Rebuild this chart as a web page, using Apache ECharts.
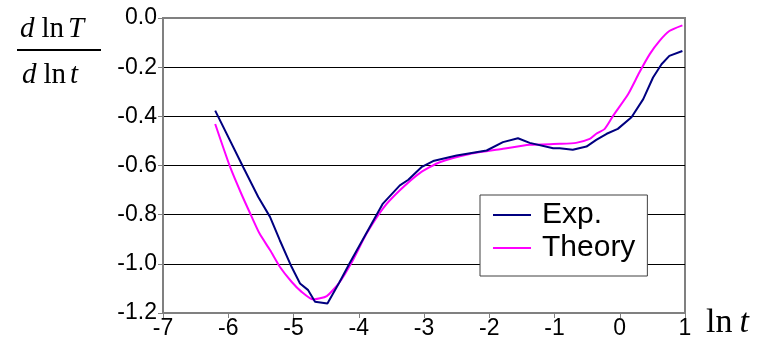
<!DOCTYPE html>
<html>
<head>
<meta charset="utf-8">
<script src="https://cdn.jsdelivr.net/npm/echarts@6/dist/echarts.min.js"></script>
<style>
  html, body { margin: 0; padding: 0; background: #fff; }
  #main { width: 764px; height: 346px; }
</style>
</head>
<body>
<div id="main"></div>
<script>
// measured curve points (ln t, d lnT / d ln t)
var expX = [-6.2, -5.77, -5.54, -5.36, -5.21, -5.03, -4.9, -4.775, -4.67, -4.48, -4.3, -4.14, -3.63, -3.37, -3.24, -3.04, -2.86, -2.5, -2.04, -1.79, -1.56, -1.38, -1.02, -0.92, -0.72, -0.51, -0.36, -0.2, -0.03, 0.18, 0.36, 0.51, 0.64, 0.76, 0.96];
var expY = [-0.377, -0.607, -0.728, -0.809, -0.904, -1.012, -1.08, -1.107, -1.154, -1.161, -1.077, -0.998, -0.755, -0.681, -0.658, -0.607, -0.582, -0.559, -0.539, -0.505, -0.489, -0.508, -0.53, -0.53, -0.536, -0.523, -0.496, -0.471, -0.451, -0.404, -0.33, -0.242, -0.188, -0.154, -0.134];
var theoryX = [-6.2, -5.97, -5.8, -5.64, -5.52, -5.36, -5.21, -5.03, -4.88, -4.7, -4.49, -4.3, -4.09, -3.88, -3.63, -3.37, -3.06, -2.76, -2.3, -1.79, -1.38, -0.92, -0.67, -0.46, -0.36, -0.23, -0.1, 0.13, 0.3, 0.46, 0.61, 0.76, 0.96];
var theoryY = [-0.431, -0.607, -0.715, -0.809, -0.877, -0.944, -1.012, -1.073, -1.113, -1.145, -1.131, -1.077, -0.985, -0.877, -0.775, -0.701, -0.63, -0.587, -0.553, -0.532, -0.516, -0.512, -0.508, -0.492, -0.471, -0.451, -0.397, -0.309, -0.222, -0.147, -0.093, -0.053, -0.03];
var seriesNames = ["Exp.", "Theory"];

function zip(xs, ys) {
  return xs.map(function (x, i) { return [x, ys[i]]; });
}

var myChart = echarts.init(document.getElementById("main"));
var serif = "'Liberation Serif', 'Times New Roman', serif";
var sans = "'Liberation Sans', Arial, sans-serif";

// rich text styles for the math labels
function mathRich(size, gapLn, gapVar) {
  return {
    i: { fontFamily: serif, fontStyle: "italic", fontSize: size, fill: "#000" },
    r: { fontFamily: serif, fontSize: size, fill: "#000", padding: [0, 0, 0, gapLn] },
    t: { fontFamily: serif, fontStyle: "italic", fontSize: size, fill: "#000", padding: [0, 0, 0, gapVar] }
  };
}

var option = {
  animation: false,
  backgroundColor: "#fff",
  grid: {
    left: 163,
    right: 79,
    top: 18,
    bottom: 33,
    show: true,
    borderColor: "#808080",
    borderWidth: 2,
    backgroundColor: "transparent"
  },
  xAxis: {
    type: "value",
    min: -7,
    max: 1,
    interval: 1,
    axisLine: { onZero: false, lineStyle: { color: "#808080", width: 2 } },
    axisTick: { show: true, length: 5, lineStyle: { color: "#808080", width: 1 } },
    axisLabel: { color: "#000", fontFamily: sans, fontSize: 23, margin: 4 },
    splitLine: { show: false }
  },
  yAxis: {
    type: "value",
    min: -1.2,
    max: 0,
    interval: 0.2,
    axisLine: { onZero: false, lineStyle: { color: "#808080", width: 2 } },
    axisTick: { show: true, length: 5, lineStyle: { color: "#808080", width: 1 } },
    axisLabel: {
      color: "#000",
      fontFamily: sans,
      fontSize: 23,
      margin: 6,
      formatter: function (v) { return v.toFixed(1); }
    },
    splitLine: {
      show: true,
      showMinLine: false,
      showMaxLine: false,
      lineStyle: { color: "#000", width: 1 }
    }
  },
  legend: {
    orient: "vertical",
    left: 480,
    top: 195,
    backgroundColor: "#fff",
    borderColor: "#404040",
    borderWidth: 1,
    padding: [5, 12, 13, 13],
    itemGap: 3,
    itemWidth: 38,
    itemHeight: 2,
    icon: "rect",
    textStyle: { color: "#000", fontFamily: sans, fontSize: 30, padding: [0, 0, 0, 6] },
    data: seriesNames
  },
  graphic: [
    {
      type: "text",
      left: 20,
      top: 15,
      style: { text: "{i|d}{r|ln}{t|T}", rich: mathRich(29, 7, 4) }
    },
    {
      type: "line",
      shape: { x1: 17, y1: 50, x2: 101, y2: 50 },
      style: { stroke: "#000", lineWidth: 2 }
    },
    {
      type: "text",
      left: 22,
      top: 61,
      style: { text: "{i|d}{r|ln}{t|t}", rich: mathRich(29, 7, 4) }
    },
    {
      type: "text",
      left: 706,
      top: 306,
      style: { text: "{r|ln}{t|t}", rich: mathRich(34, 0, 7) }
    }
  ],
  series: [
    {
      name: seriesNames[0],
      type: "line",
      data: zip(expX, expY),
      showSymbol: false,
      symbol: "none",
      lineStyle: { color: "#000080", width: 2 },
      itemStyle: { color: "#000080" },
      z: 3
    },
    {
      name: seriesNames[1],
      type: "line",
      data: zip(theoryX, theoryY),
      showSymbol: false,
      symbol: "none",
      smooth: 0.2,
      lineStyle: { color: "#ff00ff", width: 2 },
      itemStyle: { color: "#ff00ff" },
      z: 2
    }
  ]
};

myChart.setOption(option);
window.addEventListener("resize", function () {
  myChart.resize();
});
</script>
</body>
</html>
